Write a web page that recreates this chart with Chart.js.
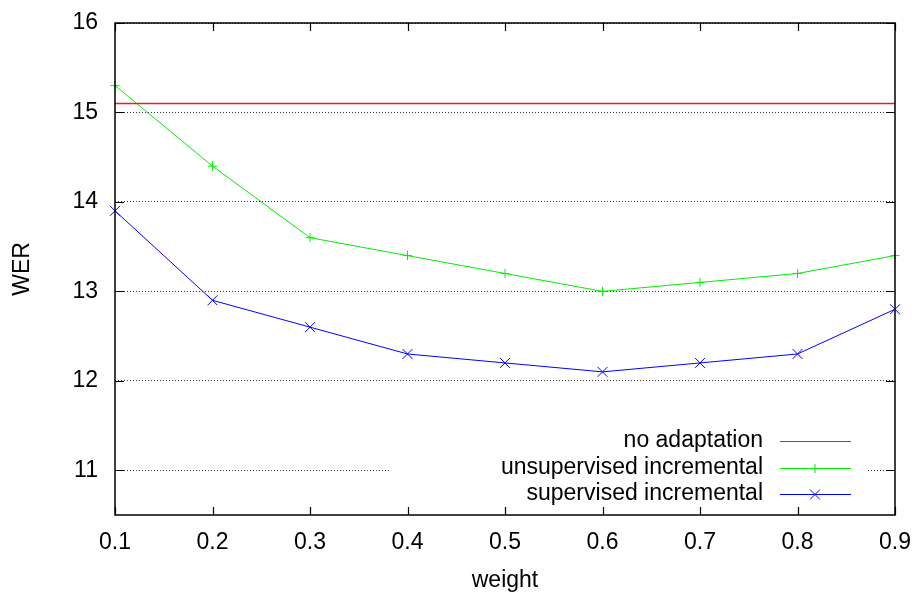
<!DOCTYPE html>
<html><head><meta charset="utf-8">
<style>html,body{margin:0;padding:0;background:#fff}#wrap{width:916px;height:595px}</style>
<script src="https://cdn.jsdelivr.net/npm/chart.js@4/dist/chart.umd.min.js"></script>
</head><body><div id="wrap"><canvas id="c" width="916" height="595"></canvas></div>
<script>
const weights = [0.1, 0.2, 0.3, 0.4, 0.5, 0.6, 0.7, 0.8, 0.9];
const noAdaptation = [15.1, 15.1, 15.1, 15.1, 15.1, 15.1, 15.1, 15.1, 15.1];
const unsupervisedIncremental = [15.3, 14.4, 13.6, 13.4, 13.2, 13.0, 13.1, 13.2, 13.4];
const supervisedIncremental = [13.9, 12.9, 12.6, 12.3, 12.2, 12.1, 12.2, 12.3, 12.8];
const seriesLabels = ["no adaptation", "unsupervised incremental", "supervised incremental"];
const xTicks = [0.1, 0.2, 0.3, 0.4, 0.5, 0.6, 0.7, 0.8, 0.9];
const yTicks = [11, 12, 13, 14, 15, 16];
const xTitle = "weight";
const yTitle = "WER";

const FONT = "'Liberation Sans', Arial, sans-serif";
const FSIZE = 23;

const toXY = arr => arr.map((v, i) => ({x: weights[i], y: v}));

const framePlugin = {
  id: 'frame',
  beforeDatasetsDraw(chart) {
    const {ctx} = chart;
    ctx.save();
    ctx.fillStyle = '#fff';
    ctx.fillRect(389, 428, 478, 80);
    ctx.restore();
  },
  afterDraw(chart) {
    const {ctx, chartArea: a, scales} = chart;
    const xs = scales.x, ys = scales.y;
    ctx.save();
    ctx.strokeStyle = '#000';
    ctx.lineWidth = 1.5;
    ctx.strokeRect(a.left, a.top, a.right - a.left, a.bottom - a.top);
    ctx.lineWidth = 1.2;
    ctx.beginPath();
    xTicks.forEach(v => {
      const px = Math.round(xs.getPixelForValue(v)) + 0.5;
      ctx.moveTo(px, a.bottom); ctx.lineTo(px, a.bottom - 8);
      ctx.moveTo(px, a.top); ctx.lineTo(px, a.top + 8);
    });
    yTicks.forEach(v => {
      const py = Math.round(ys.getPixelForValue(v)) + 0.5;
      ctx.moveTo(a.left, py); ctx.lineTo(a.left + 9, py);
      ctx.moveTo(a.right, py); ctx.lineTo(a.right - 9, py);
    });
    ctx.stroke();

    ctx.font = FSIZE + 'px ' + FONT;
    const rows = [441, 467.5, 494];
    chart.data.datasets.forEach((ds, i) => {
      const y = rows[i];
      ctx.fillStyle = '#000';
      ctx.textAlign = 'right';
      ctx.textBaseline = 'middle';
      ctx.fillText(ds.label, 763, y);
      ctx.strokeStyle = ds.borderColor;
      ctx.lineWidth = 1;
      ctx.beginPath();
      ctx.moveTo(780, Math.round(y) + 0.5); ctx.lineTo(851, Math.round(y) + 0.5);
      ctx.stroke();
      if (ds.pointRadius > 0) {
        Chart.helpers.drawPoint(ctx, {pointStyle: ds.pointStyle, radius: ds.pointRadius, borderWidth: 1}, 815, Math.round(y) + 0.5);
      }
    });
    ctx.restore();
  }
};

const zeroPad = s => { s.paddingTop = 0; s.paddingBottom = 0; s.paddingLeft = 0; s.paddingRight = 0; };

new Chart(document.getElementById('c'), {
  type: 'line',
  data: {
    datasets: [
      {label: seriesLabels[0], data: toXY(noAdaptation), borderColor: '#e82020', backgroundColor: '#e82020', borderWidth: 1.3, pointRadius: 0, clip: false},
      {label: seriesLabels[1], data: toXY(unsupervisedIncremental), borderColor: '#00ee00', backgroundColor: '#00ee00', borderWidth: 1, pointStyle: 'cross', pointRadius: 4.5, pointBorderWidth: 1, clip: false},
      {label: seriesLabels[2], data: toXY(supervisedIncremental), borderColor: '#0000ff', backgroundColor: '#0000ff', borderWidth: 1, pointStyle: 'crossRot', pointRadius: 7, pointBorderWidth: 1, clip: false}
    ]
  },
  options: {
    responsive: false,
    animation: false,
    devicePixelRatio: 1,
    layout: {padding: {top: 23, right: 21, left: 0, bottom: 0}},
    plugins: {legend: {display: false}, tooltip: {enabled: false}},
    elements: {line: {tension: 0}},
    scales: {
      x: {
        type: 'linear', min: 0.1, max: 0.9,
        afterBuildTicks: s => { s.ticks = xTicks.map(v => ({value: v})); },
        afterFit: s => { s.height = 80; zeroPad(s); },
        ticks: {color: '#000', font: {family: FONT, size: FSIZE}, padding: 14, maxRotation: 0, autoSkip: false,
          callback: v => v.toFixed(1)},
        grid: {display: false, drawTicks: false},
        border: {display: false},
        title: {display: true, text: xTitle, color: '#000', font: {family: FONT, size: FSIZE}, padding: {top: 0, bottom: 1}}
      },
      y: {
        type: 'linear', min: 10.5, max: 16,
        afterBuildTicks: s => { s.ticks = yTicks.map(v => ({value: v})); },
        afterFit: s => { s.width = 115; zeroPad(s); },
        ticks: {color: '#000', font: {family: FONT, size: FSIZE}, padding: 17, callback: v => String(v)},
        grid: {display: true, drawTicks: false, color: '#333', lineWidth: 1},
        border: {display: false, dash: [1, 2]},
        title: {display: true, text: yTitle, color: '#000', font: {family: FONT, size: FSIZE}, padding: {top: 9, bottom: 0}}
      }
    }
  },
  plugins: [framePlugin]
});
</script>
</body></html>
